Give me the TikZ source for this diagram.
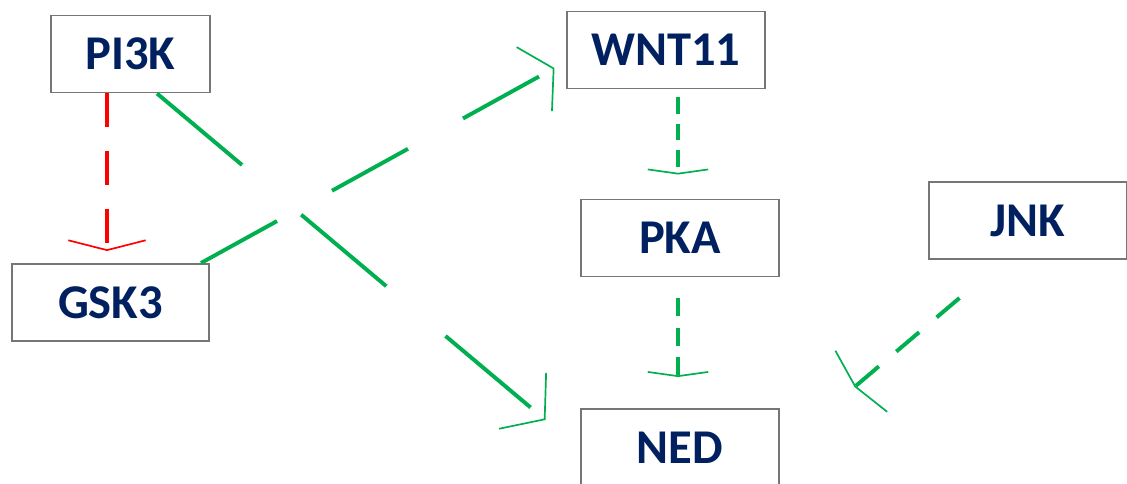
\documentclass[tikz,border=0pt]{standalone}
\usepackage{fontspec}
\setmainfont{Carlito}
\usetikzlibrary{calc, arrows.meta}
\definecolor{navy}{HTML}{002060}
\definecolor{pathgreen}{HTML}{00B050}
\definecolor{boxgray}{HTML}{767676}

\begin{document}
\begin{tikzpicture}[x=0.025cm, y=-0.025cm,
    gene/.style={draw=boxgray, line width=1.4pt, fill=white, text=navy,
        font=\bfseries\fontsize{34.5}{34.5}\selectfont,
        minimum width=4.925cm, minimum height=1.925cm, inner sep=0pt},
    link/.style={line width=2.8pt, pathgreen}]
    \clip (0, 0) rectangle (1127, 484);

    \node[gene, minimum width=3.95cm] (pi3k) at (130.5, 54) {PI3K};
    \node[gene] (gsk) at (110.5, 302.5) {GSK3};
    \node[gene] (wnt) at (666, 50) {WNT11};
    \node[gene] (pka) at (680, 238) {PKA};
    \node[gene] (jnk) at (1028, 220.5) {JNK};
    \node[gene] (ned) at (680, 447.5) {NED};


    \draw[link, red, dash pattern=on 24pt off 17pt,
        -{Straight Barb[length=7pt, width=55pt, line width=1.2pt]}]
        ($(pi3k.south)+(-23.5, 0)$) -- ($(gsk.north)+(-3.5, -12)$);

    \draw[link, dash pattern=on 79pt off 55pt,
        -{Straight Barb[length=20.5pt, width=52pt, line width=1.2pt]}]
        ($(pi3k.south)+(26.5, 0)$) -- ($(ned.north west)+(-35, 12)$);

    \draw[link, dash pattern=on 61.7pt off 44.7pt,
        -{Straight Barb[length=15.7pt, width=52pt, line width=1.2pt]}]
        ($(gsk.north east)+(-9, 0)$) -- ($(wnt.west)+(-12, 18)$);


    \draw[link, dash pattern=on 11.7pt off 7pt,
        -{Straight Barb[length=3pt, width=43pt, line width=1.2pt]}]
        ($(wnt.south)+(12, 8)$) -- ($(pka.north)+(-2, -24)$);

    \draw[link, dash pattern=on 12.8pt off 8pt,
        -{Straight Barb[length=3pt, width=43pt, line width=1.2pt]}]
        ($(pka.south)+(-2, 21)$) -- ($(ned.north)+(-2, -31)$);

    \draw[link, dash pattern=on 21.3pt off 16.3pt,
        -{Straight Barb[length=5.7pt, width=57pt, line width=1.2pt]}]
        ($(jnk.south west)+(31, 38)$) -- ($(ned.north east)+(75, -21)$);
\end{tikzpicture}
\end{document}
